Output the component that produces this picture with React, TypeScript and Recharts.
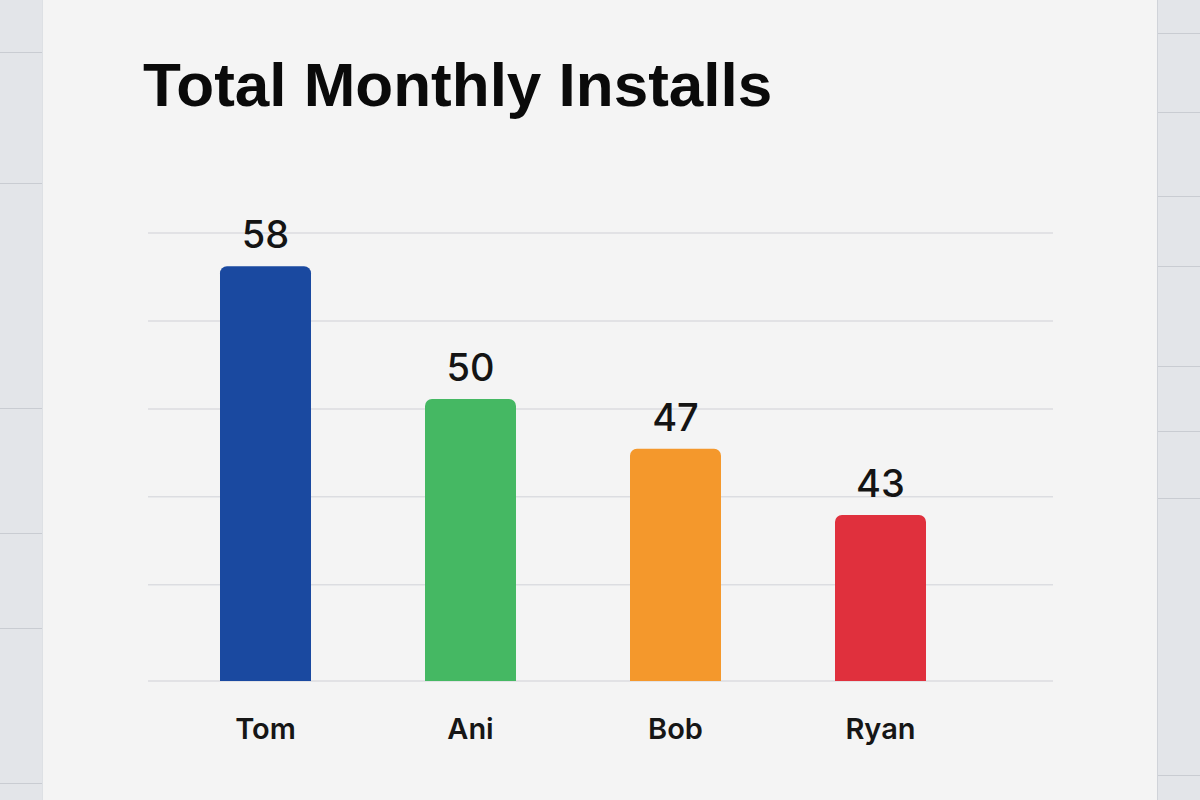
import React from 'react';
import { BarChart, Bar, XAxis, YAxis, CartesianGrid, Cell, LabelList } from 'recharts';

const NAMES = ['Tom', 'Ani', 'Bob', 'Ryan'];
const INSTALLS = [58, 50, 47, 43];
const COLORS = ['#1a49a0', '#45b863', '#f4982c', '#e0303d'];
// hidden y axis, only used for gridline positions
const Y_DOMAIN = [33, 60];
const Y_TICKS = [33, 38.8, 44.1, 49.4, 54.7, 60];

const data = NAMES.map((name, i) => ({ name, installs: INSTALLS[i] }));

const NameTick = ({ x, y, payload }: any) => (
  <text
    x={x}
    y={y + 58}
    textAnchor="middle"
    fontFamily="Inter, 'Liberation Sans', Arial, sans-serif"
    fontWeight={600}
    fontSize={29}
    fill="#161616"
  >
    {payload.value}
  </text>
);

const ValueLabel = ({ x, y, width, value }: any) => (
  <text
    x={x + width / 2}
    y={y - 18}
    textAnchor="middle"
    fontFamily="Inter, 'Liberation Sans', Arial, sans-serif"
    fontWeight={500}
    fontSize={38}
    fill="#141414"
  >
    {value}
  </text>
);

const bgLinesLeft = [52, 183, 408, 533, 628, 783];
const bgLinesRight = [33, 112, 196, 266, 366, 431, 498, 775];

export default function App() {
  return (
    <div style={{ position: 'absolute', left: 0, top: 0, width: 1200, height: 800, background: '#e3e5e9', overflow: 'hidden' }}>
      {bgLinesLeft.map((t) => (
        <div key={'l' + t} style={{ position: 'absolute', left: 0, top: t, width: 42, height: 1, background: '#c9ccd2' }} />
      ))}
      {bgLinesRight.map((t) => (
        <div key={'r' + t} style={{ position: 'absolute', left: 1158, top: t, width: 42, height: 1, background: '#c9ccd2' }} />
      ))}
      <div
        style={{
          position: 'absolute',
          left: 42,
          top: 0,
          width: 1116,
          height: 800,
          background: '#f4f4f4',
          borderLeft: '1px solid #dde0e4',
          borderRight: '1px solid #d0d3d9',
          boxSizing: 'border-box',
        }}
      />
      <div
        style={{
          position: 'absolute',
          left: 143,
          top: 50,
          fontFamily: "'Liberation Sans', Arial, sans-serif",
          fontWeight: 700,
          fontSize: 62,
          lineHeight: '70px',
          color: '#0a0a0a',
          whiteSpace: 'nowrap',
        }}
      >
        Total Monthly Installs
      </div>
      <div style={{ position: 'absolute', left: 0, top: 0 }}>
        <BarChart width={1200} height={800} data={data} margin={{ top: 233, left: 148, right: 147, bottom: 59 }}>
          <CartesianGrid vertical={false} stroke="#dcdde1" strokeWidth={1.5} />
          <XAxis
            dataKey="name"
            axisLine={false}
            tickLine={false}
            tickSize={0}
            tickMargin={0}
            height={60}
            padding={{ left: 15, right: 70 }}
            tick={<NameTick />}
            interval={0}
          />
          <YAxis hide domain={Y_DOMAIN} ticks={Y_TICKS} allowDataOverflow />
          <Bar dataKey="installs" barSize={91} radius={[7, 7, 0, 0]} isAnimationActive={false}>
            {data.map((d, i) => (
              <Cell key={d.name} fill={COLORS[i]} />
            ))}
            <LabelList dataKey="installs" content={<ValueLabel />} />
          </Bar>
        </BarChart>
      </div>
    </div>
  );
}
